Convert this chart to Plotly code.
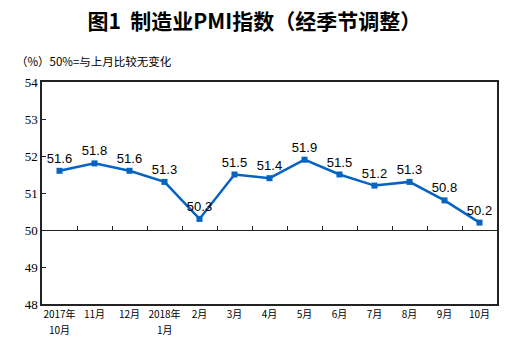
import plotly.graph_objects as go

categories = ["2017年10月", "2017年11月", "2017年12月", "2018年1月", "2018年2月", "2018年3月",
              "2018年4月", "2018年5月", "2018年6月", "2018年7月", "2018年8月", "2018年9月",
              "2018年10月"]
tick_line1 = ["2017年", "11月", "12月", "2018年", "2月", "3月", "4月",
              "5月", "6月", "7月", "8月", "9月", "10月"]
tick_line2 = ["10月", "", "", "1月", "", "", "", "", "", "", "", "", ""]
pmi = [51.6, 51.8, 51.6, 51.3, 50.3, 51.5, 51.4, 51.9, 51.5, 51.2, 51.3, 50.8, 50.2]
y_ticks = [48, 49, 50, 51, 52, 53, 54]

blue = "#0563C1"
cjk = "Noto Sans CJK SC"

fig = go.Figure()
fig.add_trace(go.Scatter(
    x=categories, y=pmi, mode="lines+markers+text",
    line=dict(color=blue, width=2.5),
    marker=dict(symbol="square", size=6, color=blue),
    text=[f"{v:.1f}" for v in pmi], textposition="top center",
    textfont=dict(family="Liberation Sans, Arial", size=13, color="#000000"),
    cliponaxis=False, showlegend=False, hoverinfo="skip",
))
fig.add_trace(go.Scatter(
    x=categories, y=pmi, xaxis="x2", mode="lines", opacity=0,
    showlegend=False, hoverinfo="skip",
))

annotations = [dict(
    text="（%）50%=与上月比较无变化", xref="paper", yref="paper",
    x=-42 / 455 + 14 / 455, y=1 + 21 / 222, xanchor="left", yanchor="middle",
    showarrow=False, font=dict(family=cjk, size=11.5, color="#000"),
)]
for cat, t2 in zip(categories, tick_line2):
    if t2:
        annotations.append(dict(
            text=t2, x=cat, xref="x", y=-25 / 222, yref="paper",
            xanchor="center", yanchor="middle", showarrow=False,
            font=dict(family=cjk, size=10, color="#000"),
        ))

fig.update_layout(
    width=519, height=351,
    margin=dict(l=42, r=22, t=82, b=47),
    paper_bgcolor="white", plot_bgcolor="white",
    title=dict(text="<b>图1  制造业PMI指数（经季节调整）</b>", x=0.49, xanchor="center",
               y=1 - 22 / 351, yanchor="middle", font=dict(family=cjk, size=21, color="#000")),
    xaxis=dict(
        type="category", categoryorder="array", categoryarray=categories,
        tickvals=categories, ticktext=tick_line1,
        range=[-0.5, len(categories) - 0.5],
        showline=True, linecolor="#222", linewidth=1.5, mirror=True,
        ticks="", showgrid=False, zeroline=False,
        tickfont=dict(family=cjk, size=10, color="#000"),
    ),
    xaxis2=dict(
        type="category", categoryorder="array", categoryarray=categories,
        range=[-0.5, len(categories) - 0.5], overlaying="x",
        anchor="free", position=(50 - 48) / (54 - 48), side="bottom",
        showline=True, linecolor="#222", linewidth=1.2,
        ticks="inside", tickson="boundaries", ticklen=4, tickcolor="#222", tickwidth=1,
        showticklabels=False, showgrid=False, zeroline=False,
    ),
    yaxis=dict(
        range=[48, 54], tickvals=y_ticks, ticktext=[str(v) for v in y_ticks],
        showline=True, linecolor="#222", linewidth=1.5, mirror=True,
        ticks="inside", ticklen=4, tickcolor="#222",
        showgrid=False, zeroline=False,
        tickfont=dict(family="Liberation Serif, Times New Roman", size=13, color="#000"),
    ),
    annotations=annotations,
)

fig.write_html("out.html")
